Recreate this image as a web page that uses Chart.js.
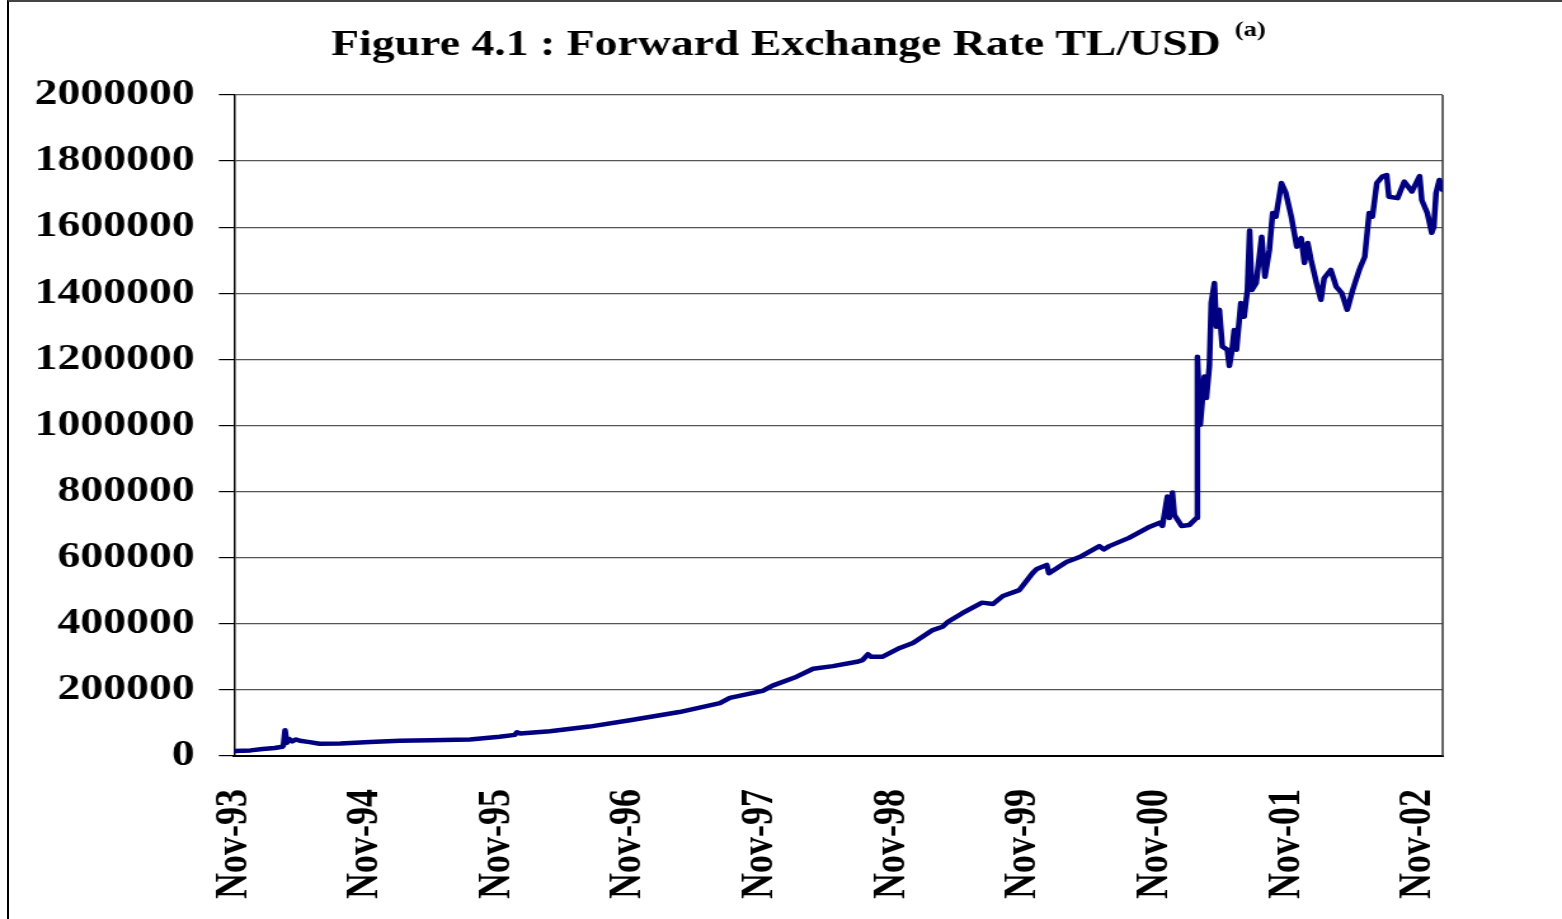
<!DOCTYPE html>
<html>
<head>
<meta charset="utf-8">
<script src="https://cdn.jsdelivr.net/npm/chart.js@4.4.1/dist/chart.umd.min.js"></script>
<style>
    html, body { margin: 0; padding: 0; background: #fff; overflow: hidden; }
    #frame { position: absolute; left: 7px; top: 0; width: 1700px; height: 1100px; border-left: 2px solid #000; border-top: 2px solid #444; }
    /* the reference is stretched horizontally, so draw narrow and widen it */
    #stage { position: absolute; left: 0; top: 0; width: 1230px; height: 919px; transform: scaleX(1.26992); transform-origin: 0 0; }
    #rateChart { width: 1230px; height: 919px; }
</style>
</head>
<body>
<div id="frame"></div>
<div id="stage"><canvas id="rateChart" width="1230" height="919"></canvas></div>
<script>
    const TITLE = 'Figure 4.1 : Forward Exchange Rate TL/USD';
    const TITLE_SUP = '(a)';

    const yearLabels = ['Nov-93', 'Nov-94', 'Nov-95', 'Nov-96', 'Nov-97', 'Nov-98', 'Nov-99', 'Nov-00', 'Nov-01', 'Nov-02'];

    // months counted from Nov-93
    const months = [
        0, 1.5, 2.6, 3.7, 4.4, 4.5, 4.65, 4.8, 5.0, 5.3,
        5.65, 6.0, 6.9, 7.8, 9.7, 12.4, 15.1, 17.9, 21.5, 24.2,
        25.6, 25.8, 26.1, 28.8, 32.4, 36.1, 40.6, 44.3, 45.2, 48.2,
        49.1, 51.3, 52.8, 54.6, 56.8, 57.3, 57.8, 58.1, 59.1, 60.7,
        61.9, 63.7, 64.6, 65.1, 66.4, 68.2, 69.2, 70.1, 71.6, 72.8,
        73.2, 74.1, 74.3, 75.9, 77.1, 78.9, 79.3, 79.8, 81.6, 83.5,
        84.4, 84.65, 85.1, 85.28, 85.56, 85.74, 86.4, 87.1, 87.74, 87.84,
        88.1, 88.47, 88.66, 88.93, 89.1, 89.39, 89.57, 89.84, 90.11, 90.57,
        90.75, 91.0, 91.2, 91.4, 91.8, 92.1, 92.4, 92.6, 92.8, 93.2,
        93.7, 94.0, 94.4, 94.7, 95.0, 95.5, 95.9, 96.4, 96.9, 97.3,
        97.6, 97.9, 98.2, 98.7, 99.1, 99.4, 100.0, 100.5, 101.0, 101.5,
        102.0, 102.6, 103.1, 103.5, 103.8, 104.2, 104.7, 105.1, 105.3, 106.1,
        106.7, 107.4, 108.1, 108.3, 108.8, 109.2, 109.4, 109.6, 109.9, 110.2
    ];

    const rates = [
        15000, 17000, 21000, 24000, 28000, 32000, 78000, 40000, 52000, 44000,
        50000, 46000, 42000, 37000, 38000, 42000, 46000, 48000, 50000, 58000,
        64000, 72000, 68000, 75000, 89000, 108000, 133000, 160000, 176000, 197000,
        213000, 240000, 264000, 272000, 285000, 290000, 308000, 300000, 300000, 327000,
        342000, 381000, 391000, 406000, 432000, 464000, 460000, 484000, 502000, 553000,
        566000, 578000, 553000, 587000, 602000, 635000, 625000, 635000, 660000, 694000,
        706000, 696000, 785000, 720000, 797000, 729000, 696000, 699000, 720000, 1208000,
        1002000, 1148000, 1083000, 1180000, 1371000, 1431000, 1299000, 1350000, 1239000, 1229000,
        1180000, 1229000, 1289000, 1229000, 1371000, 1329000, 1410000, 1590000, 1410000, 1431000,
        1571000, 1450000, 1531000, 1643000, 1632000, 1734000, 1704000, 1632000, 1541000, 1567000,
        1492000, 1552000, 1501000, 1431000, 1380000, 1446000, 1471000, 1420000, 1401000, 1350000,
        1410000, 1471000, 1511000, 1643000, 1632000, 1734000, 1753000, 1758000, 1692000, 1688000,
        1738000, 1708000, 1755000, 1682000, 1643000, 1583000, 1602000, 1704000, 1743000, 1713000
    ];

    const serif = '"Liberation Serif", "Times New Roman", "DejaVu Serif", serif';

    const titlePlugin = {
        id: 'figureTitle',
        afterDraw(chart) {
            const ctx = chart.ctx;
            ctx.save();
            ctx.fillStyle = '#000';
            ctx.textBaseline = 'alphabetic';
            ctx.font = `bold 36px ${serif}`;
            ctx.textAlign = 'center';
            ctx.fillText(TITLE, 611, 55);
            const w = ctx.measureText(TITLE).width;
            ctx.font = `bold 21px ${serif}`;
            ctx.textAlign = 'left';
            ctx.fillText(TITLE_SUP, 611 + w / 2 + 11, 36);
            ctx.restore();
        }
    };

    const plotFrame = {
        id: 'plotFrame',
        beforeDatasetsDraw(chart) {
            const {ctx, chartArea: a} = chart;
            ctx.save();
            ctx.strokeStyle = '#333';
            ctx.lineWidth = 1.5;
            ctx.beginPath();
            ctx.moveTo(a.right, a.top);
            ctx.lineTo(a.right, a.bottom);
            ctx.stroke();
            ctx.restore();
        }
    };

    const ctx = document.getElementById('rateChart').getContext('2d');

    new Chart(ctx, {
        type: 'line',
        data: {
            datasets: [{
                data: months.map((m, i) => ({x: m, y: rates[i]})),
                borderColor: '#000080',
                borderWidth: 4.5,
                borderJoinStyle: 'round',
                borderCapStyle: 'round',
                pointRadius: 0,
                tension: 0,
                fill: false
            }]
        },
        options: {
            responsive: false,
            animation: false,
            layout: {padding: {top: 95, right: 94, bottom: 0, left: 0}},
            plugins: {
                legend: {display: false},
                title: {display: false},
                tooltip: {enabled: false}
            },
            scales: {
                x: {
                    type: 'linear',
                    min: 0,
                    max: 110.2,
                    grid: {display: false, drawTicks: false},
                    border: {display: true, color: '#000', width: 2},
                    afterFit: (scale) => { scale.height = 163; },
                    ticks: {
                        stepSize: 12,
                        includeBounds: false,
                        autoSkip: false,
                        minRotation: 90,
                        maxRotation: 90,
                        padding: 33,
                        color: '#000',
                        font: {family: serif, size: 36, weight: 'bold'},
                        callback: (v) => (v % 12 === 0 ? yearLabels[v / 12] : '')
                    }
                },
                y: {
                    min: 0,
                    max: 2000000,
                    afterFit: (scale) => { scale.width = 184.3; },
                    grid: {color: '#555', lineWidth: 1.2, tickLength: 12, tickColor: '#000'},
                    border: {display: true, color: '#000', width: 1.5},
                    ticks: {
                        stepSize: 200000,
                        padding: 19,
                        color: '#000',
                        font: {family: serif, size: 36, weight: 'bold'},
                        callback: (v) => String(v)
                    }
                }
            }
        },
        plugins: [plotFrame, titlePlugin]
    });
</script>
</body>
</html>
